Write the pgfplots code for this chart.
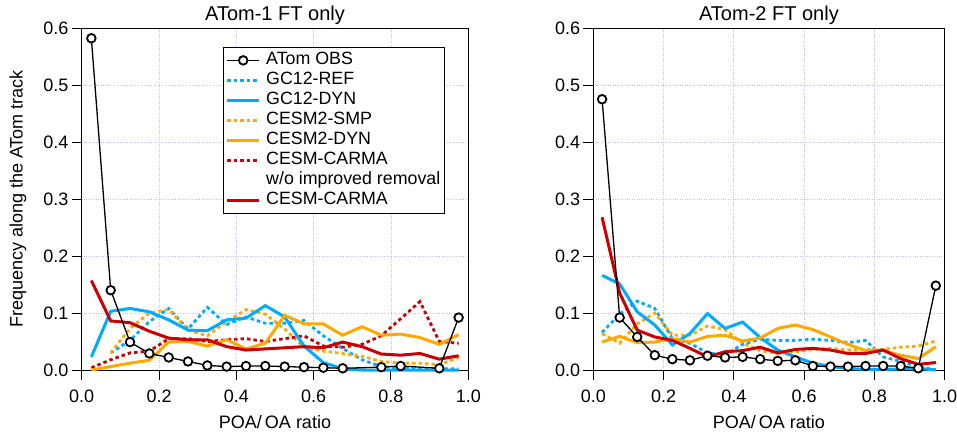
\documentclass[border=0pt]{standalone}
\usepackage{fontspec}
\setmainfont{Liberation Sans}
\usepackage{pgfplots}
\usepackage{pgfplotstable}
\pgfplotsset{compat=1.18}
\definecolor{cblue}{RGB}{0,170,255}
\definecolor{corange}{RGB}{255,168,0}
\definecolor{cred}{RGB}{204,0,0}
\definecolor{cgrid}{RGB}{190,190,250}

\pgfplotstableread{
x obs gcref gcdyn smp cdyn wo carma
0.025 0.582 nan 0.023 nan 0.000 0.004 0.157
0.075 0.140 0.030 0.103 0.030 0.006 0.018 0.086
0.125 0.049 0.052 0.108 0.073 0.012 0.030 0.083
0.175 0.029 0.085 0.102 0.100 0.017 0.033 0.068
0.225 0.022 0.108 0.088 0.106 0.049 0.055 0.056
0.275 0.015 0.072 0.070 0.070 0.050 0.055 0.053
0.325 0.008 0.110 0.069 0.060 0.042 0.050 0.053
0.375 0.006 0.080 0.088 0.085 0.053 0.053 0.041
0.425 0.007 0.093 0.091 0.106 0.037 0.055 0.035
0.475 0.007 0.082 0.113 0.098 0.047 0.050 0.037
0.525 0.006 0.082 0.093 0.072 0.096 0.055 0.039
0.575 0.005 0.087 0.042 0.040 0.081 0.060 0.041
0.625 0.004 0.060 0.013 0.033 0.081 0.042 0.039
0.675 0.003 0.038 0.002 0.029 0.061 0.040 0.049
0.725 nan 0.018 0.000 0.024 0.076 0.045 0.041
0.775 0.005 0.006 0.000 0.015 0.061 0.060 0.028
0.825 0.007 0.003 0.000 0.012 0.063 0.090 0.026
0.875 nan 0.002 0.000 0.012 0.057 0.120 0.029
0.925 0.003 0.002 0.000 0.009 0.045 0.050 0.019
0.975 0.092 0.002 0.000 0.022 0.062 0.047 0.025
}\left

\pgfplotstableread{
x obs gcref gcdyn smp cdyn carma
0.025 0.475 0.066 0.166 0.064 0.049 0.268
0.075 0.092 0.098 0.151 0.047 0.059 0.135
0.125 0.058 0.121 0.102 0.081 0.048 0.070
0.175 0.026 0.108 0.079 0.100 0.049 0.058
0.225 0.019 0.055 0.044 0.061 0.055 0.052
0.275 0.017 0.047 0.064 0.061 0.049 0.038
0.325 0.025 0.030 0.099 0.077 0.059 0.023
0.375 0.022 0.027 0.073 0.071 0.061 0.032
0.425 0.023 0.045 0.084 0.047 0.051 0.034
0.475 0.019 0.054 0.057 0.034 0.056 0.040
0.525 0.016 0.052 0.035 0.029 0.073 0.030
0.575 0.017 0.052 0.023 0.032 0.079 0.036
0.625 0.007 0.054 0.012 0.036 0.071 0.038
0.675 0.006 0.052 0.006 0.038 0.058 0.035
0.725 0.006 0.048 0.003 0.035 0.045 0.029
0.775 0.007 0.052 0.001 0.036 0.034 0.029
0.825 0.007 0.023 0.001 0.036 0.034 0.035
0.875 0.007 0.015 0.002 0.040 0.026 0.020
0.925 0.003 0.006 0.003 0.042 0.020 0.010
0.975 0.148 0.000 0.000 0.051 0.041 0.013
}\right

\pgfplotsset{
  obs/.style={black, line width=1.3pt, mark=*, mark size=4.3pt,
    mark options={fill=white, draw=black, line width=1.8pt, solid}},
  dots/.style={line width=2.8pt, dash pattern=on 3.5pt off 3pt},
  sol/.style={line width=3pt},
  gcref/.style={cblue, dots},
  gcdyn/.style={cblue, sol},
  smp/.style={corange, dots},
  cdyn/.style={corange, sol},
  wo/.style={cred, dots},
  carma/.style={cred, sol},
  myaxis/.style={
    scale only axis, height=342pt,
    xmin=0, xmax=1, ymin=0, ymax=0.6,
    xtick={0,0.2,0.4,0.6,0.8,1.0},
    xticklabels={0.0,0.2,0.4,0.6,0.8,1.0},
    ytick={0,0.1,0.2,0.3,0.4,0.5,0.6},
    yticklabels={0.0,0.1,0.2,0.3,0.4,0.5,0.6},
    tick align=outside, major tick length=10pt,
    xtick pos=bottom, ytick pos=left,
    tick style={black, line width=1pt},
    axis line style={black, line width=1pt},
    grid=major, major grid style={cgrid, dotted, line width=0.8pt},
    tick label style={font=\fontsize{18}{21}\selectfont},
    yticklabel style={inner sep=0pt, xshift=-3pt},
    xticklabel style={inner sep=0pt, yshift=-10pt},
    title style={font=\fontsize{20}{24}\selectfont, inner sep=0pt,
      at={(axis description cs:0.5,1)}, anchor=base, yshift=2pt},
    xlabel style={font=\fontsize{18}{21}\selectfont,
      at={(axis description cs:0.5,-0.171)}, anchor=base},
    ylabel style={font=\fontsize{18}{21}\selectfont},
    clip=false,
    legend image code/.code={
      \draw[mark repeat=2,mark phase=2] plot coordinates {(0pt,0pt) (16pt,0pt) (32pt,0pt)};},
  },
}

\begin{document}
\begin{tikzpicture}
\path[use as bounding box] (0pt,0pt) rectangle (957pt,434pt);

\begin{axis}[myaxis, at={(81.7pt,64pt)}, anchor=south west, width=386.6pt,
  title={ATom-1 FT only},
  xlabel={POA/\,OA ratio},
  ylabel={Frequency along the ATom track},
  ylabel style={at={(axis description cs:-0.165,0.5)}, anchor=center},
  legend style={at={(0.3663,0.9445)}, anchor=north west, draw=black, line width=0.8pt,
    fill=white, font=\fontsize{17.8}{20}\selectfont, row sep=0pt, column sep=3pt,
    inner xsep=2pt, inner ysep=3pt, cells={anchor=west},
    nodes={inner xsep=2.5pt, inner ysep=1.5pt, text height=13pt, text depth=4pt}},
  legend cell align=left]
\addlegendimage{obs}\addlegendentry{ATom OBS}
\addlegendimage{gcref}\addlegendentry{GC12-REF}
\addlegendimage{gcdyn}\addlegendentry{GC12-DYN}
\addlegendimage{smp}\addlegendentry{CESM2-SMP}
\addlegendimage{cdyn}\addlegendentry{CESM2-DYN}
\addlegendimage{wo}\addlegendentry{CESM-CARMA}
\addlegendimage{empty legend}\addlegendentry{w/o improved removal}
\addlegendimage{carma}\addlegendentry{CESM-CARMA}

\addplot[gcref, forget plot] table[x=x, y=gcref] {\left};
\addplot[smp, forget plot] table[x=x, y=smp] {\left};
\addplot[wo, forget plot] table[x=x, y=wo] {\left};
\addplot[gcdyn, forget plot] table[x=x, y=gcdyn] {\left};
\addplot[cdyn, forget plot] table[x=x, y=cdyn] {\left};
\addplot[carma, forget plot] table[x=x, y=carma] {\left};
\addplot[obs, forget plot] table[x=x, y=obs] {\left};
\end{axis}

\begin{axis}[myaxis, at={(593.3pt,64pt)}, anchor=south west, width=351.3pt,
  title={ATom-2 FT only},
  xlabel={POA/\,OA ratio}]
\addplot[gcref] table[x=x, y=gcref] {\right};
\addplot[smp] table[x=x, y=smp] {\right};
\addplot[gcdyn] table[x=x, y=gcdyn] {\right};
\addplot[cdyn] table[x=x, y=cdyn] {\right};
\addplot[carma] table[x=x, y=carma] {\right};
\addplot[obs] table[x=x, y=obs] {\right};
\end{axis}
\end{tikzpicture}
\end{document}
